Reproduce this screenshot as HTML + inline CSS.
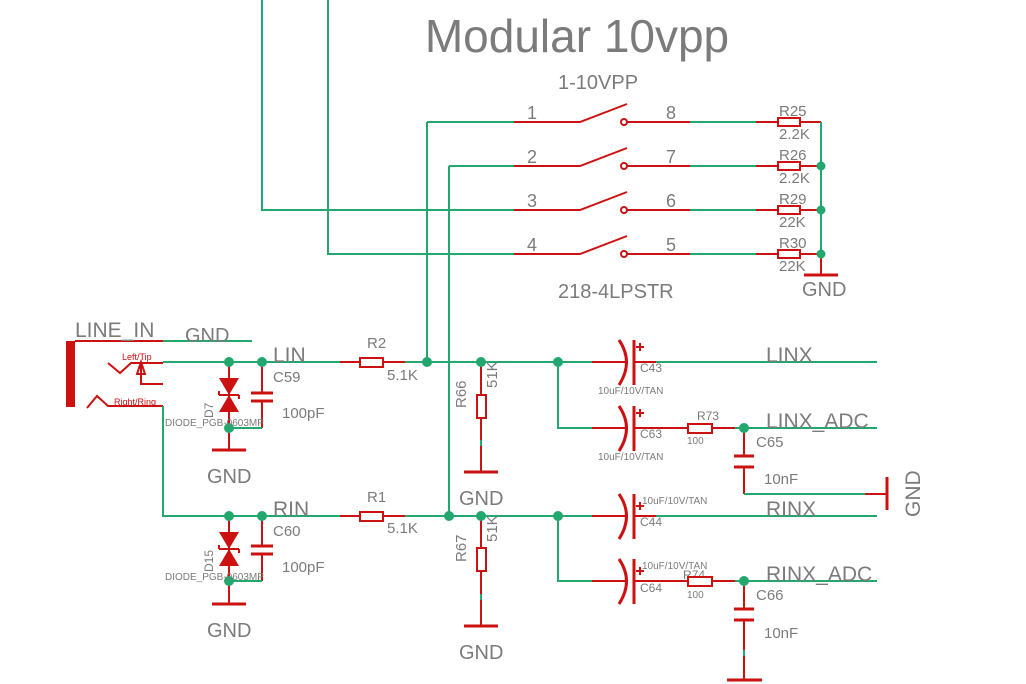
<!DOCTYPE html>
<html><head><meta charset="utf-8"><style>
html,body{margin:0;padding:0;background:#fff;width:1026px;height:684px;overflow:hidden}
svg{display:block}
text{font-family:"Liberation Sans",sans-serif;fill:#7b7b7b}
.g{stroke:#22a86e;stroke-width:2;fill:none}
.r{stroke:#cc1111;stroke-width:2;fill:none}
.rb{stroke:#cc1111;stroke-width:3;fill:none}
.rw{stroke:#cc1111;stroke-width:2;fill:#fff}
.d{fill:#22a86e}
.t{fill:#cc1111;font-size:9px}
</style></head><body>
<svg width="1026" height="684" viewBox="0 0 1026 684">
<text x="577" y="52" font-size="46" text-anchor="middle">Modular 10vpp</text>
<text x="558" y="89" font-size="20">1-10VPP</text>
<text x="558" y="298" font-size="20">218-4LPSTR</text>
<text x="802" y="296" font-size="20">GND</text>

<path class="g" d="M262 0V210H514 M328 0V254H514 M427 122V362 M449 166V516 M427 122H514 M449 166H514"/>
<g>
<path class="r" d="M514 122H580L627 104 M514 166H580L627 148 M514 210H580L627 192 M514 254H580L627 236"/>
<circle cx="624" cy="122" r="3" class="rw"/><circle cx="624" cy="166" r="3" class="rw"/><circle cx="624" cy="210" r="3" class="rw"/><circle cx="624" cy="254" r="3" class="rw"/>
<path class="r" d="M627 122H690 M627 166H690 M627 210H690 M627 254H690"/>
<path class="g" d="M690 122H756 M690 166H756 M690 210H756 M690 254H756"/>
<path class="r" d="M756 122H778 M800 122H821 M756 166H778 M800 166H821 M756 210H778 M800 210H821 M756 254H778 M800 254H821"/>
<rect x="778" y="118" width="22" height="8" class="rw"/><rect x="778" y="162" width="22" height="8" class="rw"/><rect x="778" y="206" width="22" height="8" class="rw"/><rect x="778" y="250" width="22" height="8" class="rw"/>
<path class="g" d="M821 122V254"/><path class="r" d="M821 254V274"/><path class="rb" d="M804 275H838"/>
<circle class="d" cx="821" cy="166" r="4.5"/><circle class="d" cx="821" cy="210" r="4.5"/><circle class="d" cx="821" cy="254" r="4.5"/>
<g font-size="18"><text x="527" y="119">1</text><text x="527" y="163">2</text><text x="527" y="207">3</text><text x="527" y="251">4</text>
<text x="666" y="119">8</text><text x="666" y="163">7</text><text x="666" y="207">6</text><text x="666" y="251">5</text></g>
<g font-size="15"><text x="779" y="116">R25</text><text x="779" y="139">2.2K</text><text x="779" y="160">R26</text><text x="779" y="183">2.2K</text>
<text x="779" y="204">R29</text><text x="779" y="227">22K</text><text x="779" y="248">R30</text><text x="779" y="271">22K</text></g>
</g>

<rect x="66" y="341" width="9" height="66" fill="#cc1111"/>
<path class="r" d="M75 341H163"/><path class="g" d="M163 341H252"/>
<text x="75" y="337" font-size="21">LINE_IN</text><text x="185" y="342" font-size="20">GND</text>
<path class="r" d="M108 363L120 373L131 363H163 M141 362V384H163 M141 362L137 374H145Z M87 408L97 396L108 406H163"/>
<text class="t" x="122" y="360">Left/Tip</text><text class="t" x="114" y="405">Right/Ring</text>
<path class="g" d="M163 362H340 M163 406V516H340"/>

<path class="r" d="M229 362V450 M262 362V393 M262 400V428"/>
<path fill="#cc1111" d="M219 378H239L229 395Z M219 412H239L229 395Z"/><path class="r" d="M219 395H239M219 395v-4M239 395v4"/>
<path class="rb" d="M251 393H273M251 401H273 M212 450H246"/>
<path class="g" d="M229 428H262"/>
<circle class="d" cx="229" cy="362" r="5"/><circle class="d" cx="262" cy="362" r="5"/><circle class="d" cx="229" cy="428" r="5"/>
<text x="273" y="362" font-size="21">LIN</text><text x="273" y="382" font-size="15">C59</text><text x="282" y="418" font-size="15">100pF</text>
<text x="165" y="426" font-size="10">DIODE_PGB-0603MP</text><text x="0" y="0" font-size="12" transform="translate(213,418) rotate(-90)">D7</text>
<text x="207" y="483" font-size="20">GND</text>

<path class="r" d="M229 516V604 M262 516V546 M262 554V581"/>
<path fill="#cc1111" d="M219 532H239L229 549Z M219 566H239L229 549Z"/><path class="r" d="M219 549H239M219 549v-4M239 549v4"/>
<path class="rb" d="M251 546H273M251 554H273 M212 604H246"/>
<path class="g" d="M229 581H262"/>
<circle class="d" cx="229" cy="516" r="5"/><circle class="d" cx="262" cy="516" r="5"/><circle class="d" cx="229" cy="581" r="5"/>
<text x="273" y="516" font-size="21">RIN</text><text x="273" y="536" font-size="15">C60</text><text x="282" y="572" font-size="15">100pF</text>
<text x="165" y="580" font-size="10">DIODE_PGB-0603MP</text><text x="0" y="0" font-size="12" transform="translate(213,572) rotate(-90)">D15</text>
<text x="207" y="637" font-size="20">GND</text>

<path class="r" d="M340 362H360 M383 362H405 M340 516H360 M383 516H405"/>
<rect x="360" y="358" width="23" height="9" class="rw"/><rect x="360" y="512" width="23" height="9" class="rw"/>
<path class="g" d="M405 362H592 M405 516H592"/>
<text x="367" y="348" font-size="15">R2</text><text x="387" y="380" font-size="15">5.1K</text>
<text x="367" y="502" font-size="15">R1</text><text x="387" y="533" font-size="15">5.1K</text>
<circle class="d" cx="427" cy="362" r="5"/><circle class="d" cx="449" cy="516" r="5"/>

<path class="r" d="M481 362V440 M481 446V472 M481 516V594 M481 600V626"/>
<path class="g" d="M481 440V446 M481 594V600"/>
<rect x="477" y="395" width="9" height="23" class="rw"/><rect x="477" y="548" width="9" height="23" class="rw"/>
<path class="rb" d="M464 472H498 M464 626H498"/>
<circle class="d" cx="481" cy="362" r="5"/><circle class="d" cx="481" cy="516" r="5"/>
<text font-size="15" transform="translate(497,388) rotate(-90)">51K</text><text font-size="15" transform="translate(466,408) rotate(-90)">R66</text>
<text font-size="15" transform="translate(497,542) rotate(-90)">51K</text><text font-size="15" transform="translate(466,562) rotate(-90)">R67</text>
<text x="459" y="505" font-size="20">GND</text><text x="459" y="659" font-size="20">GND</text>

<path class="g" d="M558 362V428H592 M558 516V581H592"/>
<circle class="d" cx="558" cy="362" r="5"/><circle class="d" cx="558" cy="516" r="5"/>

<g>
<path class="r" d="M592 362H626 M634 362H656 M592 428H626 M634 428H688 M592 516H626 M634 516H656 M592 581H626 M634 581H688"/>
<path class="rb" d="M619 340Q634 362 619 385 M634 340V385 M619 406Q634 428 619 451 M634 406V451 M619 494Q634 516 619 539 M634 494V539 M619 559Q634 581 619 604 M634 559V604"/>
<path class="r" d="M636 347h8M640 343v8 M636 413h8M640 409v8 M636 506h8M640 502v8 M636 571h8M640 567v8"/>
</g>
<path class="g" d="M656 362H877 M656 516H877"/>
<g font-size="12"><text x="640" y="372">C43</text><text x="640" y="438">C63</text><text x="640" y="526">C44</text><text x="640" y="592">C64</text>
<text x="697" y="420">R73</text><text x="683" y="579">R74</text></g>
<g font-size="10"><text x="598" y="394">10uF/10V/TAN</text><text x="598" y="460">10uF/10V/TAN</text><text x="642" y="504">10uF/10V/TAN</text><text x="642" y="569">10uF/10V/TAN</text>
<text x="687" y="444">100</text><text x="687" y="598">100</text></g>

<path class="r" d="M712 428H735 M712 581H735"/>
<rect x="688" y="424" width="24" height="9" class="rw"/><rect x="688" y="577" width="24" height="9" class="rw"/>
<path class="g" d="M735 428H877 M735 581H877"/>
<path class="r" d="M744 428V456 M744 467V494 M744 581V609 M744 620V650 M744 656V680 M865 494H887"/>
<path class="g" d="M744 494H865 M744 650V656"/>
<path class="rb" d="M734 456H754M734 467H754 M734 609H754M734 620H754 M887 477V510 M727 680H762"/>
<circle class="d" cx="744" cy="428" r="5"/><circle class="d" cx="744" cy="581" r="5"/>
<text x="756" y="447" font-size="15">C65</text><text x="764" y="484" font-size="15">10nF</text>
<text x="756" y="600" font-size="15">C66</text><text x="764" y="638" font-size="15">10nF</text>
<text font-size="21" transform="translate(920,517) rotate(-90)">GND</text>
<g font-size="21"><text x="766" y="362">LINX</text><text x="766" y="428">LINX_ADC</text><text x="766" y="516">RINX</text><text x="766" y="581">RINX_ADC</text></g>
</svg>
</body></html>
